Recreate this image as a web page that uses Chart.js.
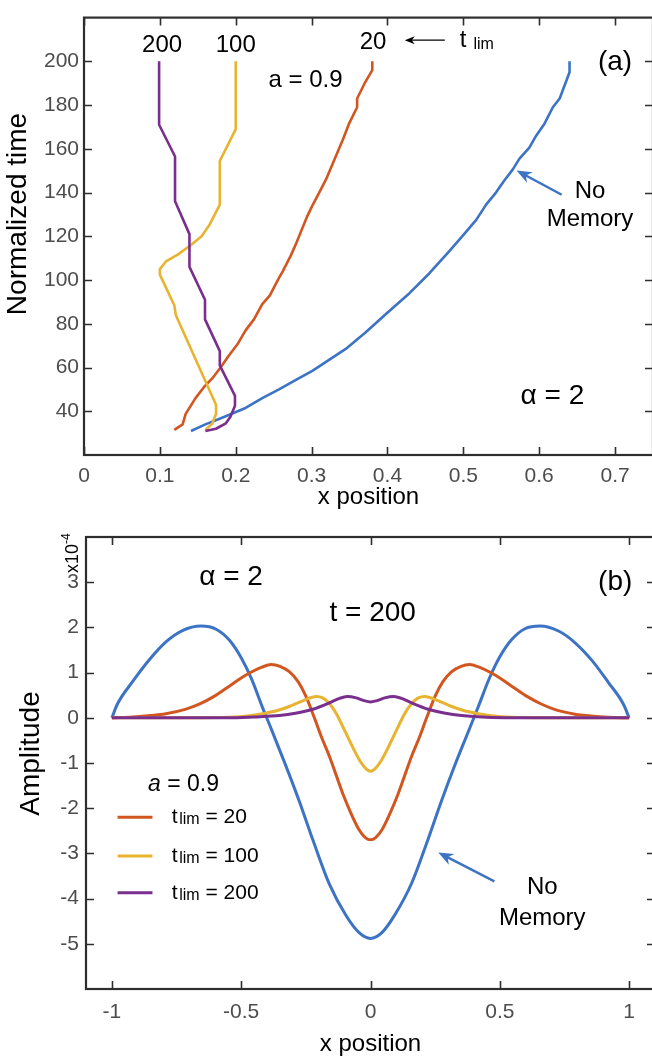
<!DOCTYPE html>
<html>
<head>
<meta charset="utf-8">
<title>Front position and amplitude</title>
<script src="https://cdn.jsdelivr.net/npm/chart.js@4.4.1/dist/chart.umd.min.js"></script>
<style>
  html, body { margin: 0; padding: 0; background: #fff; overflow: hidden; }
  body { width: 652px; height: 1057px; position: relative; }
  canvas { position: absolute; left: 0; }
  #frontChart { top: 0; }
  #ampChart { top: 515px; }
</style>
</head>
<body>
<canvas id="frontChart" width="662" height="515"></canvas>
<canvas id="ampChart" width="662" height="545"></canvas>
<script>

// ---- (a) front position against normalized time ----
const xTicksA = [0, 0.1, 0.2, 0.3, 0.4, 0.5, 0.6, 0.7];
const xTickLabelsA = ["0", "0.1", "0.2", "0.3", "0.4", "0.5", "0.6", "0.7"];
const tTicksA = [40, 60, 80, 100, 120, 140, 160, 180, 200];
const tTickLabelsA = ["40", "60", "80", "100", "120", "140", "160", "180", "200"];

const noMemPos = [0.141, 0.16, 0.182, 0.213, 0.235, 0.257, 0.28, 0.301, 0.323, 0.345, 0.371, 0.398, 0.429, 0.455, 0.481, 0.501, 0.517, 0.53, 0.543, 0.554, 0.565, 0.574, 0.587, 0.596, 0.607, 0.618, 0.627, 0.64, 0.64];
const noMemTime = [31, 34, 37, 41.5, 46, 50, 54.5, 58.5, 63.5, 68.5, 76, 84.5, 94, 103, 113, 121, 127.5, 134.5, 140, 145.5, 150.5, 155.5, 160.5, 166, 171.5, 179, 183, 195, 200];

const lim20Pos = [0.119, 0.13, 0.134, 0.147, 0.158, 0.169, 0.18, 0.191, 0.202, 0.213, 0.224, 0.235, 0.245, 0.257, 0.262, 0.273, 0.28, 0.294, 0.301, 0.31, 0.319, 0.33, 0.341, 0.35, 0.36, 0.36, 0.37, 0.38, 0.38];
const lim20Time = [31.5, 34, 38.8, 46, 51, 55, 60, 65.5, 70.5, 77, 82, 89, 93, 101, 104, 111.5, 117, 129, 134, 140, 146, 155, 164, 172, 179, 183, 190, 196, 200];

const lim100Pos = [0.16, 0.169, 0.174, 0.174, 0.141, 0.121, 0.119, 0.1, 0.1, 0.108, 0.123, 0.141, 0.155, 0.165, 0.179, 0.179, 0.19, 0.2, 0.2];
const lim100Time = [31.4, 34.4, 38.8, 43, 68.5, 84, 88.5, 102.5, 105, 108.5, 111.5, 116, 120, 125, 134.5, 154.5, 162, 169, 200];

const lim200Pos = [0.16, 0.174, 0.187, 0.193, 0.199, 0.199, 0.179, 0.179, 0.1595, 0.1595, 0.139, 0.139, 0.12, 0.12, 0.099, 0.099];
const lim200Time = [31, 32, 34.5, 37.5, 42.5, 47, 61, 67.5, 82, 91, 106, 121, 136, 156.5, 171, 200];

// ---- (b) amplitude at t = 200, in units of 1e-4 ----
const xTicksB = [-1, -0.5, 0, 0.5, 1];
const xTickLabelsB = ["-1", "-0.5", "0", "0.5", "1"];
const ampTicksB = [-5, -4, -3, -2, -1, 0, 1, 2, 3];
const ampTickLabelsB = ["-5", "-4", "-3", "-2", "-1", "0", "1", "2", "3"];

const noMemX = [-1, -0.978, -0.92, -0.856, -0.791, -0.727, -0.655, -0.597, -0.546, -0.5, -0.46, -0.417, -0.38, -0.326, -0.275, -0.223, -0.159, -0.094, -0.043, 0, 0.043, 0.094, 0.159, 0.223, 0.275, 0.326, 0.38, 0.417, 0.46, 0.5, 0.546, 0.597, 0.655, 0.727, 0.791, 0.856, 0.92, 0.978, 1];
const noMemAmp = [0, 0.31, 0.8, 1.28, 1.68, 1.93, 2.03, 1.96, 1.72, 1.33, 0.86, 0.22, -0.3, -1.08, -1.85, -2.7, -3.68, -4.38, -4.76, -4.88, -4.76, -4.36, -3.66, -2.68, -1.83, -1.05, -0.28, 0.25, 0.88, 1.35, 1.73, 1.97, 2.03, 1.92, 1.66, 1.27, 0.78, 0.3, 0];

const lim20X = [-1, -0.92, -0.85, -0.791, -0.72, -0.662, -0.6, -0.546, -0.5, -0.468, -0.42, -0.384, -0.35, -0.314, -0.28, -0.25, -0.217, -0.19, -0.159, -0.107, -0.075, -0.045, -0.02, 0, 0.02, 0.045, 0.075, 0.107, 0.159, 0.19, 0.217, 0.25, 0.28, 0.314, 0.35, 0.383, 0.42, 0.468, 0.5, 0.546, 0.6, 0.662, 0.72, 0.791, 0.85, 0.92, 1];
const lim20Amp = [0, 0.02, 0.05, 0.09, 0.18, 0.3, 0.49, 0.7, 0.88, 0.99, 1.12, 1.18, 1.14, 1.02, 0.8, 0.48, 0.0, -0.42, -0.85, -1.68, -2.12, -2.47, -2.65, -2.7, -2.65, -2.47, -2.12, -1.68, -0.85, -0.42, 0.0, 0.48, 0.8, 1.02, 1.14, 1.18, 1.12, 0.99, 0.88, 0.7, 0.49, 0.3, 0.17, 0.08, 0.04, 0.01, 0];

const lim100X = [-1, -0.7, -0.546, -0.46, -0.417, -0.36, -0.314, -0.26, -0.21, -0.185, -0.16, -0.133, -0.1, -0.069, -0.04, -0.015, 0, 0.015, 0.04, 0.069, 0.1, 0.133, 0.16, 0.185, 0.21, 0.26, 0.314, 0.36, 0.417, 0.46, 0.546, 0.7, 1];
const lim100Amp = [0, 0, 0.01, 0.05, 0.09, 0.16, 0.25, 0.38, 0.47, 0.44, 0.32, 0.1, -0.28, -0.65, -0.96, -1.14, -1.18, -1.14, -0.96, -0.65, -0.28, 0.1, 0.32, 0.44, 0.47, 0.38, 0.25, 0.16, 0.09, 0.05, 0.01, 0, 0];

const lim200X = [-1, -0.55, -0.45, -0.352, -0.29, -0.223, -0.159, -0.12, -0.09, -0.055, -0.025, 0, 0.025, 0.055, 0.09, 0.12, 0.159, 0.223, 0.29, 0.352, 0.45, 0.55, 1];
const lim200Amp = [0, 0, 0.02, 0.05, 0.1, 0.19, 0.33, 0.43, 0.47, 0.44, 0.38, 0.35, 0.38, 0.44, 0.47, 0.43, 0.33, 0.19, 0.1, 0.05, 0.01, 0, 0];

const tLimValues = [20, 100, 200];

const blue = "#3c73c4";
const orange = "#d2561f";
const yellow = "#e8b330";
const purple = "#7a2e8e";
const tickGray = "#4d4d4d";
const FONT = "'Liberation Sans', Arial, Helvetica, sans-serif";

function pts(xs, ys) {
    return xs.map((x, i) => ({ x: x, y: ys[i] }));
}

function text(ctx, str, x, y, size, align, style) {
    ctx.font = (style || "") + " " + size + "px " + FONT;
    ctx.textAlign = align || "center";
    ctx.textBaseline = "alphabetic";
    ctx.fillStyle = "#000";
    ctx.fillText(str, x, y);
}

// rotated axis title, centred on (x, y)
function sideTitle(ctx, str, x, y, size) {
    ctx.save();
    ctx.translate(x, y);
    ctx.rotate(-Math.PI / 2);
    ctx.font = size + "px " + FONT;
    ctx.textAlign = "center";
    ctx.textBaseline = "middle";
    ctx.fillStyle = "#000";
    ctx.fillText(str, 0, 0);
    ctx.restore();
}

// "t" with a "lim" subscript, then the rest, starting at x
function subText(ctx, x, y, rest, size, subSize, gap, drop) {
    ctx.fillStyle = "#000";
    ctx.textAlign = "left";
    ctx.textBaseline = "alphabetic";
    ctx.font = size + "px " + FONT;
    ctx.fillText("t", x, y);
    let w = ctx.measureText("t").width + gap;
    ctx.font = subSize + "px " + FONT;
    ctx.fillText("lim", x + w, y + drop);
    w += ctx.measureText("lim").width;
    if (rest) {
        ctx.font = size + "px " + FONT;
        ctx.fillText(rest, x + w, y);
    }
}

function arrow(ctx, from, to, color, width, headLen, headW) {
    const ang = Math.atan2(to[1] - from[1], to[0] - from[0]);
    const c = Math.cos(ang), s = Math.sin(ang);
    const bx = to[0] - headLen * c, by = to[1] - headLen * s;
    ctx.strokeStyle = color;
    ctx.fillStyle = color;
    ctx.lineWidth = width;
    ctx.beginPath();
    ctx.moveTo(from[0], from[1]);
    ctx.lineTo(to[0] - headLen * 0.6 * c, to[1] - headLen * 0.6 * s);
    ctx.stroke();
    ctx.beginPath();
    ctx.moveTo(to[0], to[1]);
    ctx.lineTo(bx + headW / 2 * s, by - headW / 2 * c);
    ctx.lineTo(to[0] - headLen * 0.7 * c, to[1] - headLen * 0.7 * s);
    ctx.lineTo(bx - headW / 2 * s, by + headW / 2 * c);
    ctx.closePath();
    ctx.fill();
}

// box round the plot area, with ticks pointing inwards on all four sides
const boxFrame = {
    id: "boxFrame",
    afterDatasetsDraw(chart) {
        const { ctx, chartArea: a, scales } = chart;
        const len = 8;
        ctx.save();
        ctx.strokeStyle = "#2e2e2e";
        ctx.lineWidth = 1.6;
        ctx.beginPath();
        scales.x.ticks.forEach(t => {
            const p = Math.round(scales.x.getPixelForValue(t.value)) + 0.5;
            ctx.moveTo(p, a.bottom);
            ctx.lineTo(p, a.bottom - len);
            ctx.moveTo(p, a.top);
            ctx.lineTo(p, a.top + len);
        });
        scales.y.ticks.forEach(t => {
            const p = Math.round(scales.y.getPixelForValue(t.value)) + 0.5;
            ctx.moveTo(a.left, p);
            ctx.lineTo(a.left + len, p);
            ctx.moveTo(a.right, p);
            ctx.lineTo(a.right - len, p);
        });
        ctx.stroke();
        ctx.lineWidth = 2.2;
        ctx.strokeRect(a.left, a.top, a.right - a.left, a.bottom - a.top);
        ctx.restore();
    }
};

const notesA = {
    id: "notesA",
    afterDraw(chart) {
        const { ctx } = chart;
        const at = (xv, yv) => [chart.scales.x.getPixelForValue(xv), chart.scales.y.getPixelForValue(yv)];
        ctx.save();

        sideTitle(ctx, "Normalized time", 18, 214, 28);

        let p = at(0.103, 204.2);
        text(ctx, "200", p[0], p[1], 24);
        p = at(0.2, 204.2);
        text(ctx, "100", p[0], p[1], 24);
        p = at(0.381, 205.7);
        text(ctx, "20", p[0], p[1], 24);

        arrow(ctx, at(0.4756, 209.7), at(0.4228, 209.7), "#000", 1.2, 10, 8);
        p = at(0.4954, 206.5);
        subText(ctx, p[0], p[1], "", 24, 16, 7, 2.3);

        p = at(0.292, 188.4);
        text(ctx, "a = 0.9", p[0], p[1], 24);
        p = at(0.7, 195.9);
        text(ctx, "(a)", p[0], p[1], 28);

        p = at(0.667, 137.5);
        text(ctx, "No", p[0], p[1], 24);
        p = at(0.667, 124.9);
        text(ctx, "Memory", p[0], p[1], 24);
        arrow(ctx, at(0.6296, 139), at(0.5702, 150.1), blue, 2.5, 15, 12);

        p = at(0.6174, 43.3);
        text(ctx, "\u03b1 = 2", p[0], p[1], 28);
        ctx.restore();
    }
};

const notesB = {
    id: "notesB",
    afterDraw(chart) {
        const { ctx, chartArea: area } = chart;
        const at = (xv, yv) => [chart.scales.x.getPixelForValue(xv), chart.scales.y.getPixelForValue(yv)];
        ctx.save();

        sideTitle(ctx, "Amplitude", 31, 238.5, 28);

        // exponent of the amplitude axis
        ctx.translate(area.left - 8, area.top + 36);
        ctx.rotate(-Math.PI / 2);
        ctx.fillStyle = "#000";
        ctx.textAlign = "left";
        ctx.textBaseline = "alphabetic";
        ctx.font = "18px " + FONT;
        ctx.fillText("x10", 0, 0);
        const w = ctx.measureText("x10").width;
        ctx.font = "12px " + FONT;
        ctx.fillText("-4", w, -8);
        ctx.setTransform(1, 0, 0, 1, 0, 0);

        let p = at(-0.539, 2.93);
        text(ctx, "\u03b1 = 2", p[0], p[1], 28);
        p = at(0.0085, 2.14);
        text(ctx, "t = 200", p[0], p[1], 28);
        p = at(0.946, 2.83);
        text(ctx, "(b)", p[0], p[1], 28);

        // legend header with italic a
        p = at(-0.723, -1.61);
        ctx.font = "italic 23px " + FONT;
        const wa = ctx.measureText("a").width;
        ctx.font = "23px " + FONT;
        const wr = ctx.measureText(" = 0.9").width;
        const x0 = p[0] - (wa + wr) / 2;
        text(ctx, "a", x0, p[1], 23, "left", "italic");
        text(ctx, " = 0.9", x0 + wa, p[1], 23, "left");

        const rows = [-2.2, -3.06, -3.87];
        const legendSets = chart.data.datasets.filter(d => d.tLim);
        tLimValues.forEach((v, i) => {
            const ds = legendSets.find(d => d.tLim === v);
            const a = at(-0.978, rows[i]), b = at(-0.843, rows[i]);
            ctx.strokeStyle = ds.borderColor;
            ctx.lineWidth = 3;
            ctx.beginPath();
            ctx.moveTo(a[0], a[1]);
            ctx.lineTo(b[0], b[1]);
            ctx.stroke();
            const t = at(-0.768, rows[i]);
            subText(ctx, t[0], t[1] + 6, " = " + v, 21, 16, 1.5, 1);
        });

        p = at(0.664, -3.9);
        text(ctx, "No", p[0], p[1], 24);
        p = at(0.664, -4.59);
        text(ctx, "Memory", p[0], p[1], 24);
        arrow(ctx, at(0.479, -3.62), at(0.262, -2.98), blue, 2.5, 15, 12);
        ctx.restore();
    }
};

const tickFont = { family: FONT, size: 21 };

new Chart(document.getElementById("frontChart"), {
    type: "line",
    data: {
        datasets: [
            { label: "No Memory", data: pts(noMemPos, noMemTime), borderColor: blue, order: 4 },
            { label: "t lim = 20", data: pts(lim20Pos, lim20Time), borderColor: orange, order: 3 },
            { label: "t lim = 100", data: pts(lim100Pos, lim100Time), borderColor: yellow, order: 2 },
            { label: "t lim = 200", data: pts(lim200Pos, lim200Time), borderColor: purple, order: 1 }
        ]
    },
    options: {
        responsive: false,
        animation: false,
        layout: { padding: { top: 6, right: 9, left: 0, bottom: 0 } },
        elements: {
            point: { radius: 0 },
            line: { borderWidth: 2.6, tension: 0, borderJoinStyle: "round", fill: false }
        },
        plugins: { legend: { display: false }, tooltip: { enabled: false } },
        scales: {
            x: {
                type: "linear",
                min: 0,
                max: 0.75,
                grid: { display: false, drawTicks: false },
                border: { display: false },
                afterBuildTicks: s => { s.ticks = xTicksA.map(v => ({ value: v })); },
                afterFit: s => { s.height = 60; },
                ticks: { padding: 9, color: tickGray, font: tickFont, maxRotation: 0, callback: (v, i) => xTickLabelsA[i] },
                title: { display: true, text: "x position", color: "#000", font: { family: FONT, size: 24 }, padding: { top: 0, bottom: 3 } }
            },
            y: {
                type: "linear",
                min: 20,
                max: 220,
                grid: { display: false, drawTicks: false },
                border: { display: false },
                afterBuildTicks: s => { s.ticks = tTicksA.map(v => ({ value: v })); },
                afterFit: s => { s.width = 84; },
                ticks: { padding: 5, color: tickGray, font: tickFont, callback: (v, i) => tTickLabelsA[i] }
            }
        }
    },
    plugins: [boxFrame, notesA]
});

new Chart(document.getElementById("ampChart"), {
    type: "line",
    data: {
        datasets: [
            { label: "No Memory", data: pts(noMemX, noMemAmp), borderColor: blue, order: 4 },
            { label: "t lim = 20", tLim: 20, data: pts(lim20X, lim20Amp), borderColor: orange, order: 3 },
            { label: "t lim = 100", tLim: 100, data: pts(lim100X, lim100Amp), borderColor: yellow, order: 2 },
            { label: "t lim = 200", tLim: 200, data: pts(lim200X, lim200Amp), borderColor: purple, order: 1 }
        ]
    },
    options: {
        responsive: false,
        animation: false,
        layout: { padding: { top: 22, right: 7, left: 0, bottom: 0 } },
        elements: {
            point: { radius: 0 },
            line: { borderWidth: 3, cubicInterpolationMode: "monotone", borderJoinStyle: "round", fill: false }
        },
        plugins: { legend: { display: false }, tooltip: { enabled: false } },
        scales: {
            x: {
                type: "linear",
                min: -1.1,
                max: 1.1,
                grid: { display: false, drawTicks: false },
                border: { display: false },
                afterBuildTicks: s => { s.ticks = xTicksB.map(v => ({ value: v })); },
                afterFit: s => { s.height = 71; },
                ticks: { padding: 11, color: tickGray, font: tickFont, maxRotation: 0, callback: (v, i) => xTickLabelsB[i] },
                title: { display: true, text: "x position", color: "#000", font: { family: FONT, size: 24 }, padding: { top: 0, bottom: 1 } }
            },
            y: {
                type: "linear",
                min: -6,
                max: 4,
                grid: { display: false, drawTicks: false },
                border: { display: false },
                afterBuildTicks: s => { s.ticks = ampTicksB.map(v => ({ value: v })); },
                afterFit: s => { s.width = 86; },
                ticks: { padding: 7, color: tickGray, font: tickFont, callback: (v, i) => ampTickLabelsB[i] }
            }
        }
    },
    plugins: [boxFrame, notesB]
});

</script>
</body>
</html>
